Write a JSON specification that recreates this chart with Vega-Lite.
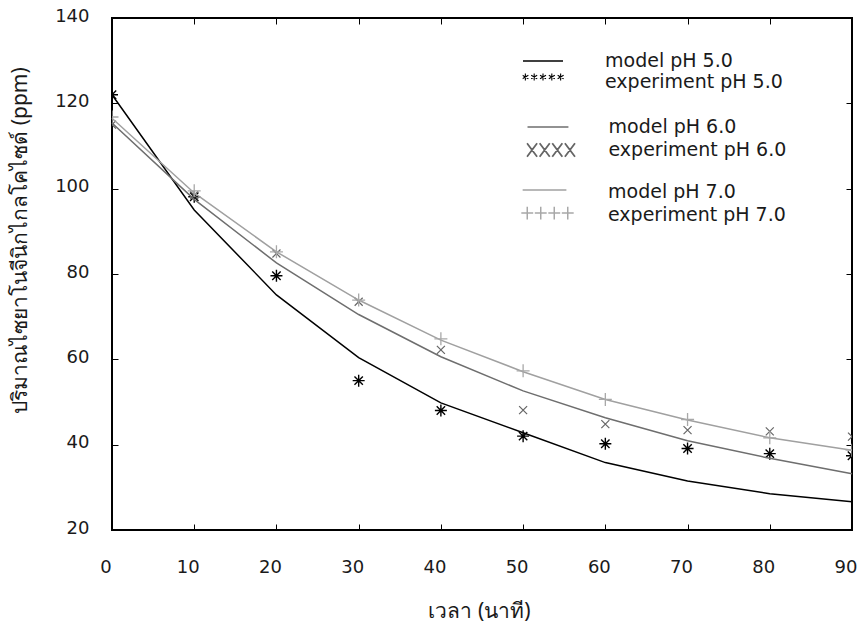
{
  "$schema": "https://vega.github.io/schema/vega-lite/v6.json",
  "width": 740,
  "height": 512,
  "autosize": "none",
  "padding": {"left": 112, "top": 18, "right": 5, "bottom": 97},
  "background": "white",
  "config": {
    "view": {"stroke": "black", "strokeWidth": 2},
    "axis": {
      "domain": false, "grid": false, "ticks": true, "tickSize": -6, "tickColor": "black", "tickWidth": 1, "labelFlush": false,
      "labelFont": "DejaVu Sans", "labelFontSize": 18, "labelColor": "#1a1a1a",
      "titleFont": "Noto Sans", "titleFontSize": 21, "titleFontWeight": "normal", "titleColor": "#1a1a1a"
    },
    "legend": {
      "orient": "none", "title": null, "padding": 0, "rowPadding": 0,
      "labelFont": "DejaVu Sans", "labelFontSize": 19, "labelColor": "#1a1a1a", "labelLimit": 0
    }
  },
  "datasets": {
    "model": [
      {"series": "model pH 5.0", "ph": "5", "t": 0, "ppm": 122.0},
      {"series": "model pH 5.0", "ph": "5", "t": 10, "ppm": 95.0},
      {"series": "model pH 5.0", "ph": "5", "t": 20, "ppm": 75.1},
      {"series": "model pH 5.0", "ph": "5", "t": 30, "ppm": 60.4},
      {"series": "model pH 5.0", "ph": "5", "t": 40, "ppm": 49.8},
      {"series": "model pH 5.0", "ph": "5", "t": 50, "ppm": 42.8},
      {"series": "model pH 5.0", "ph": "5", "t": 60, "ppm": 35.8},
      {"series": "model pH 5.0", "ph": "5", "t": 70, "ppm": 31.5},
      {"series": "model pH 5.0", "ph": "5", "t": 80, "ppm": 28.5},
      {"series": "model pH 5.0", "ph": "5", "t": 90, "ppm": 26.6},
      {"series": "model pH 6.0", "ph": "6", "t": 0, "ppm": 115.4},
      {"series": "model pH 6.0", "ph": "6", "t": 10, "ppm": 97.5},
      {"series": "model pH 6.0", "ph": "6", "t": 20, "ppm": 82.6},
      {"series": "model pH 6.0", "ph": "6", "t": 30, "ppm": 70.5},
      {"series": "model pH 6.0", "ph": "6", "t": 40, "ppm": 60.6},
      {"series": "model pH 6.0", "ph": "6", "t": 50, "ppm": 52.6},
      {"series": "model pH 6.0", "ph": "6", "t": 60, "ppm": 46.3},
      {"series": "model pH 6.0", "ph": "6", "t": 70, "ppm": 40.9},
      {"series": "model pH 6.0", "ph": "6", "t": 80, "ppm": 36.8},
      {"series": "model pH 6.0", "ph": "6", "t": 90, "ppm": 33.2},
      {"series": "model pH 7.0", "ph": "7", "t": 0, "ppm": 116.5},
      {"series": "model pH 7.0", "ph": "7", "t": 10, "ppm": 99.0},
      {"series": "model pH 7.0", "ph": "7", "t": 20, "ppm": 85.2},
      {"series": "model pH 7.0", "ph": "7", "t": 30, "ppm": 73.9},
      {"series": "model pH 7.0", "ph": "7", "t": 40, "ppm": 64.5},
      {"series": "model pH 7.0", "ph": "7", "t": 50, "ppm": 57.1},
      {"series": "model pH 7.0", "ph": "7", "t": 60, "ppm": 50.6},
      {"series": "model pH 7.0", "ph": "7", "t": 70, "ppm": 45.8},
      {"series": "model pH 7.0", "ph": "7", "t": 80, "ppm": 41.6},
      {"series": "model pH 7.0", "ph": "7", "t": 90, "ppm": 38.7}
    ],
    "experiment": [
      {"series": "experiment pH 5.0", "ph": "5", "t": 0, "ppm": 122.0},
      {"series": "experiment pH 5.0", "ph": "5", "t": 10, "ppm": 98.1},
      {"series": "experiment pH 5.0", "ph": "5", "t": 20, "ppm": 79.6},
      {"series": "experiment pH 5.0", "ph": "5", "t": 30, "ppm": 55.0},
      {"series": "experiment pH 5.0", "ph": "5", "t": 40, "ppm": 48.0},
      {"series": "experiment pH 5.0", "ph": "5", "t": 50, "ppm": 42.0},
      {"series": "experiment pH 5.0", "ph": "5", "t": 60, "ppm": 40.2},
      {"series": "experiment pH 5.0", "ph": "5", "t": 70, "ppm": 39.1},
      {"series": "experiment pH 5.0", "ph": "5", "t": 80, "ppm": 37.9},
      {"series": "experiment pH 5.0", "ph": "5", "t": 90, "ppm": 37.4},
      {"series": "experiment pH 6.0", "ph": "6", "t": 0, "ppm": 115.0},
      {"series": "experiment pH 6.0", "ph": "6", "t": 10, "ppm": 98.5},
      {"series": "experiment pH 6.0", "ph": "6", "t": 20, "ppm": 84.8},
      {"series": "experiment pH 6.0", "ph": "6", "t": 30, "ppm": 73.5},
      {"series": "experiment pH 6.0", "ph": "6", "t": 40, "ppm": 62.2},
      {"series": "experiment pH 6.0", "ph": "6", "t": 50, "ppm": 48.1},
      {"series": "experiment pH 6.0", "ph": "6", "t": 60, "ppm": 44.8},
      {"series": "experiment pH 6.0", "ph": "6", "t": 70, "ppm": 43.4},
      {"series": "experiment pH 6.0", "ph": "6", "t": 80, "ppm": 43.1},
      {"series": "experiment pH 6.0", "ph": "6", "t": 90, "ppm": 41.9},
      {"series": "experiment pH 7.0", "ph": "7", "t": 0, "ppm": 116.8},
      {"series": "experiment pH 7.0", "ph": "7", "t": 10, "ppm": 99.5},
      {"series": "experiment pH 7.0", "ph": "7", "t": 20, "ppm": 85.2},
      {"series": "experiment pH 7.0", "ph": "7", "t": 30, "ppm": 73.9},
      {"series": "experiment pH 7.0", "ph": "7", "t": 40, "ppm": 64.8},
      {"series": "experiment pH 7.0", "ph": "7", "t": 50, "ppm": 57.3},
      {"series": "experiment pH 7.0", "ph": "7", "t": 60, "ppm": 50.6},
      {"series": "experiment pH 7.0", "ph": "7", "t": 70, "ppm": 45.9},
      {"series": "experiment pH 7.0", "ph": "7", "t": 80, "ppm": 41.6},
      {"series": "experiment pH 7.0", "ph": "7", "t": 90, "ppm": 38.7}
    ]
  },
  "resolve": {"scale": {"color": "independent"}, "axis": {"x": "independent", "y": "independent"}},
  "layer": [
    {
      "layer": [
        {
          "data": {"name": "model"},
          "transform": [{"filter": "datum.ph == '5'"}],
          "mark": {"type": "line", "strokeWidth": 1.5},
          "encoding": {
            "x": {"field": "t", "type": "quantitative", "title": "เวลา (นาที)", "scale": {"domain": [0, 90], "nice": false, "zero": false},
              "axis": {"orient": "bottom", "values": [0, 10, 20, 30, 40, 50, 60, 70, 80, 90], "labelBaseline": "top", "labelPadding": 34, "labelOffset": -6.5, "titleX": 367, "titleY": 81, "titleBaseline": "middle"}},
            "y": {"field": "ppm", "type": "quantitative", "title": "ปริมาณไซยาโนจีนิกไกลโคไซด์ (ppm)", "scale": {"domain": [20, 140], "nice": false, "zero": false},
              "axis": {"orient": "left", "values": [20, 40, 60, 80, 100, 120, 140], "labelPadding": 29, "labelOffset": -2, "titleX": -92, "titleY": 222, "titleAngle": 270, "titleBaseline": "middle", "titleAlign": "center"}},
            "color": {"field": "series", "type": "nominal", "scale": {"domain": ["model pH 5.0", "experiment pH 5.0"], "range": ["#000000", "#000000"]},
              "legend": {"legendX": 410.5, "legendY": 32.5, "symbolSize": 1849, "symbolOffset": 11, "labelOffset": 52.5, "clipHeight": 21,
                "encode": {"symbols": {"update": {
                  "shape": {"signal": "datum.value == 'model pH 5.0' ? 'M-0.93,0L0.93,0' : 'M-0.82,-0.39L-0.82,-0.07M-0.959,-0.31L-0.681,-0.15M-0.959,-0.15L-0.681,-0.31M-0.41,-0.39L-0.41,-0.07M-0.549,-0.31L-0.271,-0.15M-0.549,-0.15L-0.271,-0.31M0,-0.39L0,-0.07M-0.139,-0.31L0.139,-0.15M-0.139,-0.15L0.139,-0.31M0.41,-0.39L0.41,-0.07M0.271,-0.31L0.549,-0.15M0.271,-0.15L0.549,-0.31M0.82,-0.39L0.82,-0.07M0.681,-0.31L0.959,-0.15M0.681,-0.15L0.959,-0.31'"},
                  "strokeWidth": {"signal": "datum.value == 'model pH 5.0' ? 1.5 : 1.1"},
                  "fill": {"value": "transparent"}
                }}}}}
          }
        },
        {
          "data": {"name": "experiment"},
          "transform": [{"filter": "datum.ph == '5'"}],
          "mark": {"type": "point", "filled": false, "clip": true, "size": 144, "strokeWidth": 1.4, "opacity": 1,
            "shape": "M-1,0L1,0M0,-1L0,1M-0.7,-0.7L0.7,0.7M-0.7,0.7L0.7,-0.7"},
          "encoding": {
            "x": {"field": "t", "type": "quantitative", "title": "เวลา (นาที)", "scale": {"domain": [0, 90], "nice": false, "zero": false}},
            "y": {"field": "ppm", "type": "quantitative", "title": "ปริมาณไซยาโนจีนิกไกลโคไซด์ (ppm)", "scale": {"domain": [20, 140], "nice": false, "zero": false}},
            "color": {"field": "series", "type": "nominal", "scale": {"domain": ["model pH 5.0", "experiment pH 5.0"], "range": ["#000000", "#000000"]}}
          }
        }
      ]
    },
    {
      "layer": [
        {
          "data": {"name": "model"},
          "transform": [{"filter": "datum.ph == '6'"}],
          "mark": {"type": "line", "strokeWidth": 1.5},
          "encoding": {
            "x": {"field": "t", "type": "quantitative", "title": null, "axis": {"orient": "top", "labels": false, "values": [0, 10, 20, 30, 40, 50, 60, 70, 80, 90]}},
            "y": {"field": "ppm", "type": "quantitative", "title": null, "axis": {"orient": "right", "labels": false, "values": [20, 40, 60, 80, 100, 120, 140]}},
            "color": {"field": "series", "type": "nominal", "scale": {"domain": ["model pH 6.0", "experiment pH 6.0"], "range": ["#6e6e6e", "#666666"]},
              "legend": {"legendX": 414.25, "legendY": 97.5, "symbolSize": 2550, "symbolOffset": 15.25, "labelOffset": 48, "clipHeight": 23,
                "encode": {"symbols": {"update": {
                  "shape": {"signal": "datum.value == 'model pH 6.0' ? 'M-0.93,0L0.69,0' : 'M-0.95,-0.27L-0.55,0.27M-0.95,0.27L-0.55,-0.27M-0.45,-0.27L-0.05,0.27M-0.45,0.27L-0.05,-0.27M0.05,-0.27L0.45,0.27M0.05,0.27L0.45,-0.27M0.55,-0.27L0.95,0.27M0.55,0.27L0.95,-0.27'"},
                  "strokeWidth": {"signal": "datum.value == 'model pH 6.0' ? 1.5 : 1.8"},
                  "fill": {"value": "transparent"}
                }}}}}
          }
        },
        {
          "data": {"name": "experiment"},
          "transform": [{"filter": "datum.ph == '6'"}],
          "mark": {"type": "point", "filled": false, "clip": true, "size": 64, "strokeWidth": 1.2, "opacity": 1,
            "shape": "M-1,-1L1,1M-1,1L1,-1"},
          "encoding": {
            "x": {"field": "t", "type": "quantitative", "title": null},
            "y": {"field": "ppm", "type": "quantitative", "title": null},
            "color": {"field": "series", "type": "nominal", "scale": {"domain": ["model pH 6.0", "experiment pH 6.0"], "range": ["#6e6e6e", "#666666"]}}
          }
        }
      ]
    },
    {
      "layer": [
        {
          "data": {"name": "model"},
          "transform": [{"filter": "datum.ph == '7'"}],
          "mark": {"type": "line", "strokeWidth": 1.5},
          "encoding": {
            "x": {"field": "t", "type": "quantitative", "axis": null},
            "y": {"field": "ppm", "type": "quantitative", "axis": null},
            "color": {"field": "series", "type": "nominal", "scale": {"domain": ["model pH 7.0", "experiment pH 7.0"], "range": ["#a0a0a0", "#a8a8a8"]},
              "legend": {"legendX": 409, "legendY": 162.5, "symbolSize": 2916, "symbolOffset": 17, "labelOffset": 51, "clipHeight": 23,
                "encode": {"symbols": {"update": {
                  "shape": {"signal": "datum.value == 'model pH 7.0' ? 'M-0.92,-0.07L0.7,-0.07' : 'M-0.97,-0.07L-0.53,-0.07M-0.75,-0.31L-0.75,0.17M-0.47,-0.07L-0.03,-0.07M-0.25,-0.31L-0.25,0.17M0.03,-0.07L0.47,-0.07M0.25,-0.31L0.25,0.17M0.53,-0.07L0.97,-0.07M0.75,-0.31L0.75,0.17'"},
                  "strokeWidth": {"signal": "datum.value == 'model pH 7.0' ? 1.5 : 1.5"},
                  "fill": {"value": "transparent"}
                }}}}}
          }
        },
        {
          "data": {"name": "experiment"},
          "transform": [{"filter": "datum.ph == '7'"}],
          "mark": {"type": "point", "filled": false, "clip": true, "size": 169, "strokeWidth": 1.3, "opacity": 1,
            "shape": "M-1,0L1,0M0,-1L0,1"},
          "encoding": {
            "x": {"field": "t", "type": "quantitative", "axis": null},
            "y": {"field": "ppm", "type": "quantitative", "axis": null},
            "color": {"field": "series", "type": "nominal", "scale": {"domain": ["model pH 7.0", "experiment pH 7.0"], "range": ["#a0a0a0", "#a8a8a8"]}}
          }
        }
      ]
    }
  ]
}
